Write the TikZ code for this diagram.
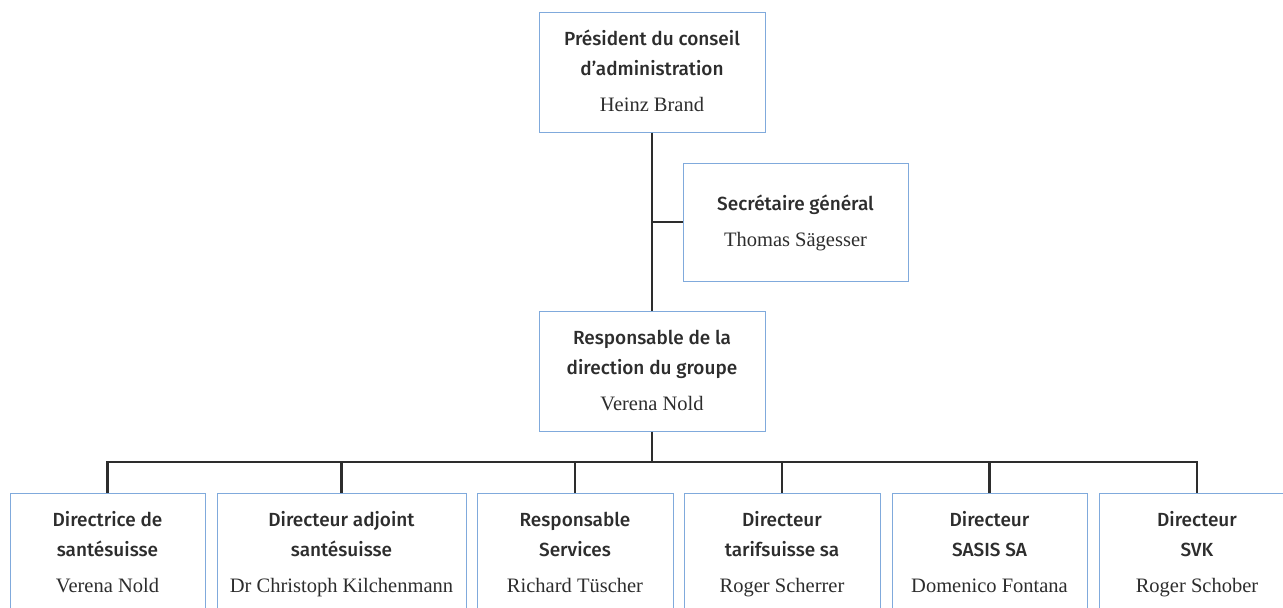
\documentclass[tikz,border=0pt]{standalone}
\usepackage{fontspec}
\setmainfont{Liberation Serif}
\newfontfamily\rolefont{Fira Sans}[BoldFont={Fira Sans Medium}]
\newcommand\namefont{\rmfamily\mdseries\fontsize{20.5}{30}\selectfont\strut}
\definecolor{boxblue}{RGB}{128,170,220}
\definecolor{linegray}{RGB}{45,45,45}
\definecolor{textgray}{RGB}{45,45,45}
\begin{document}
\begin{tikzpicture}
[
    x=1pt, y=-1pt,
    post/.style={draw=boxblue, line width=1pt, text=textgray, align=center,
        inner sep=0pt, minimum height=120pt,
        font=\rolefont\bfseries\fontsize{19}{30}\selectfont},
    link/.style={draw=linegray, line width=2.2pt},
]
\useasboundingbox (0,0) rectangle (1283,608);
% board and group head
\node[post, minimum width=226pt] (pres) at (652,72)
    {\strut Président du conseil\\d’administration\\[6pt]\namefont Heinz Brand};
\node[post, minimum width=225pt, minimum height=118pt] (sec) at (795.5,222)
    {\strut Secrétaire général\\[6pt]\namefont Thomas Sägesser};
\node[post, minimum width=226pt] (head) at (652,371)
    {\strut Responsable de la\\direction du groupe\\[6pt]\namefont Verena Nold};
% directors
\node[post, minimum width=195pt] (dir1) at (107.5,553)
    {\strut Directrice de\\santésuisse\\[6pt]\namefont Verena Nold};
\node[post, minimum width=249pt] (dir2) at (341.5,553)
    {\strut Directeur adjoint\\santésuisse\\[6pt]\namefont Dr Christoph Kilchenmann};
\node[post, minimum width=196pt] (dir3) at (575,553)
    {\strut Responsable\\Services\\[6pt]\namefont Richard Tüscher};
\node[post, minimum width=196pt] (dir4) at (782,553)
    {\strut Directeur\\tarifsuisse sa\\[6pt]\namefont Roger Scherrer};
\node[post, minimum width=195pt] (dir5) at (989.5,553)
    {\strut Directeur\\SASIS SA\\[6pt]\namefont Domenico Fontana};
\node[post, minimum width=196pt] (dir6) at (1197,553)
    {\strut Directeur\\SVK\\[6pt]\namefont Roger Schober};
% connectors
\coordinate (bus) at (652,462);
\draw[link] (pres) -- (head);
\draw[link] (sec.west) -- (sec.west -| pres.south);
\draw[link] (head) -- (bus);
\foreach \n in {dir1,dir2,dir3,dir4,dir5,dir6}
    \draw[link] (bus) -| (\n.north);
\end{tikzpicture}
\end{document}
